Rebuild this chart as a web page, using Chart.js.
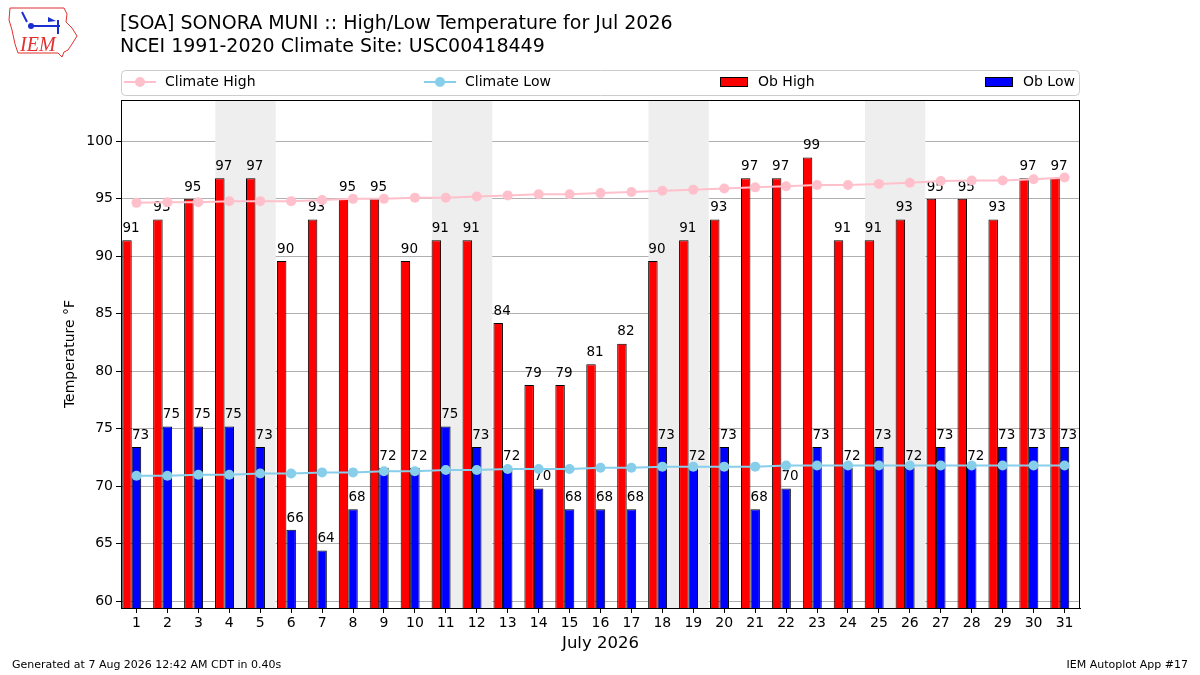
<!DOCTYPE html>
<html>
<head>
<meta charset="utf-8">
<script src="https://cdn.jsdelivr.net/npm/chart.js@4"></script>
<style>
  html, body { margin: 0; padding: 0; background: #fff; }
  #wrap { position: relative; width: 1200px; height: 675px; }
</style>
</head>
<body>
<div id="wrap"><canvas id="out" width="1200" height="675"></canvas></div>
<script>
// days of the month
const days = [1, 2, 3, 4, 5, 6, 7, 8, 9, 10, 11, 12, 13, 14, 15, 16, 17, 18, 19, 20,
  21, 22, 23, 24, 25, 26, 27, 28, 29, 30, 31];
const obHigh = [91.4, 93.2, 95, 96.8, 96.8, 89.6, 93.2, 95, 95, 89.6, 91.4, 91.4, 84.2, 78.8, 78.8,
  80.6, 82.4, 89.6, 91.4, 93.2, 96.8, 96.8, 98.6, 91.4, 91.4, 93.2, 95, 95, 93.2, 96.8, 96.8];
const obLow = [73.4, 75.2, 75.2, 75.2, 73.4, 66.2, 64.4, 68, 71.6, 71.6, 75.2, 73.4, 71.6, 69.8, 68,
  68, 68, 73.4, 71.6, 73.4, 68, 69.8, 73.4, 71.6, 73.4, 71.6, 73.4, 71.6, 73.4, 73.4, 73.4];
// NCEI climatology
const climHigh = [94.65, 94.7, 94.7, 94.8, 94.8, 94.8, 94.9, 95.0, 95.0, 95.1, 95.1, 95.2, 95.3, 95.4, 95.4,
  95.5, 95.6, 95.7, 95.8, 95.9, 96.0, 96.1, 96.2, 96.2, 96.3, 96.4, 96.55, 96.6, 96.6, 96.7, 96.85];
const climLow = [70.9, 70.9, 71.0, 71.0, 71.1, 71.1, 71.2, 71.2, 71.3, 71.3, 71.4, 71.4, 71.5, 71.5, 71.5,
  71.6, 71.6, 71.7, 71.7, 71.7, 71.7, 71.8, 71.8, 71.8, 71.8, 71.8, 71.8, 71.8, 71.8, 71.8, 71.8];
// first day of each weekend (Sat)
const weekendStarts = [4, 11, 18, 25];
const yTicks = [60, 65, 70, 75, 80, 85, 90, 95, 100];

const FONT = "'DejaVu Sans', sans-serif";

// weekend shading behind the bars
const shadePlugin = {
  id: "shade",
  beforeDatasetsDraw(chart) {
    const ctx = chart.ctx;
    const x = chart.scales.x;
    const area = chart.chartArea;
    const w = x.getPixelForValue(1) - x.getPixelForValue(0);
    ctx.save();
    ctx.fillStyle = "#eeeeee";
    weekendStarts.forEach(function(d) {
      const i = days.indexOf(d);
      const left = x.getPixelForValue(i) - 0.45 * w;
      const right = x.getPixelForValue(i + 1) + 0.5 * w;
      ctx.fillRect(left, area.top, right - left, area.bottom - area.top);
    });
    ctx.restore();
  }
};

// value labels over the bars
const barLabelPlugin = {
  id: "barLabels",
  afterDatasetDraw(chart, args) {
    const ds = chart.data.datasets[args.index];
    if (ds.type !== "bar" || !ds.data.length) return;
    const ctx = chart.ctx;
    ctx.save();
    ctx.font = "13.5px " + FONT;
    ctx.fillStyle = "#000";
    ctx.textAlign = "center";
    ctx.textBaseline = "bottom";
    args.meta.data.forEach(function(el, i) {
      ctx.fillText(String(Math.round(ds.data[i])), el.x + 4, el.y - 5);
    });
    ctx.restore();
  }
};

// titles, legend, frame, footer, logo
const decorPlugin = {
  id: "decor",
  afterDraw(chart) {
    const ctx = chart.ctx;
    const a = chart.chartArea;
    ctx.save();
    // frame
    ctx.strokeStyle = "#000";
    ctx.lineWidth = 1;
    ctx.strokeRect(a.left + 0.5, a.top + 0.5, a.right - a.left - 1, a.bottom - a.top);

    // titles
    ctx.fillStyle = "#000";
    ctx.textAlign = "left";
    ctx.textBaseline = "middle";
    ctx.font = "19px " + FONT;
    ctx.fillText("[SOA] SONORA MUNI :: High/Low Temperature for Jul 2026", 120, 24);
    ctx.fillText("NCEI 1991-2020 Climate Site: USC00418449", 120, 47);

    // axis titles
    ctx.textAlign = "center";
    ctx.font = "16.5px " + FONT;
    ctx.fillText("July 2026", (a.left + a.right) / 2, 644);
    ctx.save();
    ctx.translate(70, (a.top + a.bottom) / 2);
    ctx.rotate(-Math.PI / 2);
    ctx.font = "14px " + FONT;
    ctx.fillText("Temperature \u00B0F", 0, 0);
    ctx.restore();

    // footer
    ctx.font = "11px " + FONT;
    ctx.textAlign = "left";
    ctx.fillText("Generated at 7 Aug 2026 12:42 AM CDT in 0.40s", 12, 665);
    ctx.textAlign = "right";
    ctx.fillText("IEM Autoplot App #17", 1188, 665);

    // legend box
    const lx = 121, ly = 70, lw = 959, lh = 25;
    ctx.fillStyle = "#fff";
    ctx.strokeStyle = "#cccccc";
    ctx.beginPath();
    ctx.roundRect(lx + 0.5, ly + 0.5, lw - 1, lh, 4);
    ctx.fill();
    ctx.stroke();
    const cy = ly + 12;
    ctx.font = "14px " + FONT;
    ctx.textAlign = "left";
    function lineItem(x0, color, label) {
      ctx.strokeStyle = color;
      ctx.lineWidth = 2;
      ctx.beginPath();
      ctx.moveTo(x0, cy);
      ctx.lineTo(x0 + 32, cy);
      ctx.stroke();
      ctx.fillStyle = color;
      ctx.beginPath();
      ctx.arc(x0 + 16, cy, 5, 0, Math.PI * 2);
      ctx.fill();
      ctx.fillStyle = "#000";
      ctx.fillText(label, x0 + 41, cy);
    }
    function boxItem(x0, color, label) {
      ctx.fillStyle = color;
      ctx.fillRect(x0, cy - 5, 28, 10);
      ctx.strokeStyle = "#000";
      ctx.lineWidth = 1;
      ctx.strokeRect(x0 + 0.5, cy - 4.5, 27, 9);
      ctx.fillStyle = "#000";
      ctx.fillText(label, x0 + 38, cy);
    }
    lineItem(124, "#ffc0cb", "Climate High");
    lineItem(424, "#87ceeb", "Climate Low");
    boxItem(720, "#ff0000", "Ob High");
    boxItem(985, "#0000ff", "Ob Low");

    // IEM logo
    ctx.strokeStyle = "#e0302f";
    ctx.lineWidth = 1;
    ctx.beginPath();
    ctx.moveTo(10, 8);
    ctx.lineTo(64, 8);
    ctx.lineTo(67, 14);
    ctx.lineTo(66, 22);
    ctx.lineTo(72, 28);
    ctx.lineTo(77, 36);
    ctx.lineTo(72, 44);
    ctx.lineTo(68, 50);
    ctx.lineTo(64, 52);
    ctx.lineTo(62, 57);
    ctx.lineTo(58, 53);
    ctx.lineTo(18, 53);
    ctx.lineTo(15, 44);
    ctx.lineTo(12, 30);
    ctx.lineTo(9, 20);
    ctx.closePath();
    ctx.stroke();
    ctx.fillStyle = "#e0302f";
    ctx.textAlign = "left";
    ctx.textBaseline = "alphabetic";
    ctx.font = "italic 20px 'Liberation Serif', 'DejaVu Serif', serif";
    ctx.fillText("IEM", 20, 51);
    ctx.strokeStyle = "#1a2fd0";
    ctx.fillStyle = "#1a2fd0";
    ctx.lineWidth = 2;
    ctx.beginPath();
    ctx.moveTo(31, 26);
    ctx.lineTo(60, 26);
    ctx.moveTo(58, 20);
    ctx.lineTo(58, 34);
    ctx.moveTo(22, 12);
    ctx.lineTo(27, 22);
    ctx.stroke();
    ctx.beginPath();
    ctx.arc(31, 26, 3, 0, Math.PI * 2);
    ctx.fill();
    ctx.beginPath();
    ctx.moveTo(48, 17);
    ctx.lineTo(56, 21);
    ctx.lineTo(48, 22);
    ctx.closePath();
    ctx.fill();
    ctx.restore();
  }
};

const canvasCtx = document.getElementById("out").getContext("2d");

var barCommon = {
  borderColor: "#000",
  borderWidth: 1,
  borderSkipped: "bottom",
  categoryPercentage: 0.92,
  barPercentage: 1,
  order: 1
};

new Chart(canvasCtx, {
  data: {
    labels: days.map(String),
    datasets: [
      {
        type: "line",
        label: "Climate High",
        data: climHigh,
        borderColor: "#ffc0cb",
        backgroundColor: "#ffc0cb",
        borderWidth: 2,
        pointRadius: 5,
        pointBorderWidth: 0,
        tension: 0,
        order: 0
      },
      {
        type: "line",
        label: "Climate Low",
        data: climLow,
        borderColor: "#87ceeb",
        backgroundColor: "#87ceeb",
        borderWidth: 2,
        pointRadius: 5,
        pointBorderWidth: 0,
        tension: 0,
        order: 0
      },
      Object.assign({ type: "bar", label: "Ob High", data: obHigh, backgroundColor: "#ff0000" }, barCommon),
      Object.assign({ type: "bar", label: "Ob Low", data: obLow, backgroundColor: "#0000ff" }, barCommon),
      // empty slot so the bar pair sits left of the tick, as in the original
      Object.assign({ type: "bar", label: "", data: [], backgroundColor: "rgba(0,0,0,0)" }, barCommon)
    ]
  },
  options: {
    responsive: false,
    animation: false,
    devicePixelRatio: 1,
    layout: { padding: { left: 0, top: 100, right: 120, bottom: 0 } },
    plugins: {
      legend: { display: false },
      title: { display: false },
      tooltip: { enabled: false }
    },
    scales: {
      x: {
        offset: true,
        grid: { display: true, drawOnChartArea: false, tickLength: 5, tickColor: "#000", offset: false },
        border: { display: true, color: "#000" },
        ticks: { color: "#000", font: { family: FONT, size: 14 }, padding: 2, maxRotation: 0, autoSkip: false },
        afterFit(scale) { scale.height = 67; }
      },
      y: {
        min: 59.4,
        max: 103.6,
        afterBuildTicks(scale) { scale.ticks = yTicks.map(function(v) { return { value: v }; }); },
        grid: { color: "#b0b0b0", lineWidth: 1, tickLength: 5, tickColor: "#000" },
        border: { display: true, color: "#000" },
        ticks: { color: "#000", font: { family: FONT, size: 14 }, padding: 3 },
        afterFit(scale) { scale.width = 121; }
      }
    }
  },
  plugins: [shadePlugin, barLabelPlugin, decorPlugin]
});
</script>
</body>
</html>
